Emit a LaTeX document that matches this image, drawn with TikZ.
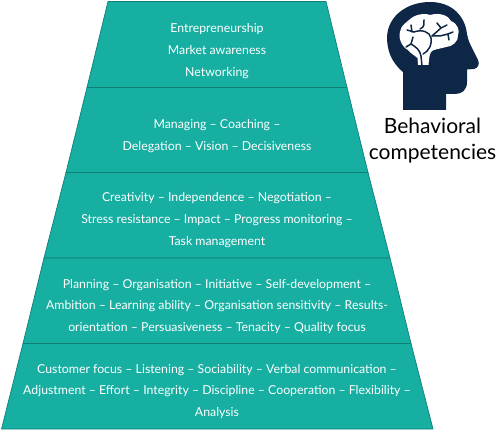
\documentclass[tikz,border=0pt]{standalone}
\usepackage{fontspec}
\setmainfont{Lato}
\definecolor{teal}{HTML}{16AFA1}
\definecolor{edge}{HTML}{0F7F78}
\definecolor{navy}{HTML}{0F2747}
\tikzset{
  tier/.style={fill=teal,draw=edge,line width=0.7pt,line join=miter},
  tiertext/.style={text=white,font=\fontsize{12.3}{21.6}\selectfont,align=center,anchor=center},
  headfill/.style={fill=navy,draw=none},
  brainfill/.style={fill=white,draw=none},
  vein/.style={draw=navy,line width=1.5pt,line cap=round,line join=round},
  caption/.style={text=black,font=\fontsize{21}{26}\selectfont,align=center,anchor=center}
}
\begin{document}
\begin{tikzpicture}[x=1pt,y=-1pt]
\useasboundingbox (0,0) rectangle (500,430);
% pyramid tiers
\draw[tier] (108,1.5) -- (326,1.5) -- (347,87.5) -- (87,87.5) -- cycle;
\draw[tier] (87,87.5) -- (347,87.5) -- (368,172.5) -- (66,172.5) -- cycle;
\draw[tier] (66,172.5) -- (368,172.5) -- (390,258) -- (44,258) -- cycle;
\draw[tier] (44,258) -- (390,258) -- (411,343.5) -- (23,343.5) -- cycle;
\draw[tier] (23,343.5) -- (411,343.5) -- (433,429) -- (1.5,429) -- cycle;
% texts
\node[tiertext] (t1) at (217,51) {Entrepreneurship\\Market awareness\\Networking};
\node[tiertext] (t2) at (217,136) {Managing – Coaching –\\Delegation – Vision – Decisiveness};
\node[tiertext] (t3) at (217,220) {Creativity – Independence – Negotiation –\\Stress resistance – Impact – Progress monitoring –\\Task management};
\node[tiertext] (t4) at (217,306.5) {Planning – Organisation – Initiative – Self-development –\\Ambition – Learning ability – Organisation sensitivity – Results-\\orientation – Persuasiveness – Tenacity – Quality focus};
\node[tiertext] (t5) at (217,391.5) {Customer focus – Listening – Sociability – Verbal communication –\\Adjustment – Effort – Integrity – Discipline – Cooperation – Flexibility –\\Analysis};
% head icon
\path[headfill] (403,110) -- (403,72)
  .. controls (391,62) and (387,50) .. (387,37)
  .. controls (388,15) and (408,2) .. (430,2)
  .. controls (452,2) and (465,16) .. (467,34)
  .. controls (468,40) and (470,44) .. (472,48)
  -- (478,60) .. controls (480,64) and (478,68) .. (474,69)
  -- (467,69.5) -- (467,82)
  .. controls (467,90) and (462,94) .. (455,94)
  -- (446,94) -- (446,110) -- cycle;
% brain
\path[brainfill] (418,65) -- (417.5,58)
  .. controls (414,55) and (410,53) .. (408,50)
  .. controls (402,47) and (398,38) .. (400,32)
  .. controls (401,25) and (406,23) .. (409,20)
  .. controls (415,14) and (425,13) .. (430,15)
  .. controls (440,12) and (449,16) .. (451,21)
  .. controls (458,24) and (460,31) .. (458,35)
  .. controls (459,41) and (452,47) .. (446,47)
  .. controls (440,49) and (433,49) .. (431,52)
  .. controls (429,56) and (429,60) .. (428.5,65) -- cycle;
% veins
\draw[vein] (422,66) -- (421,56) .. controls (420,50) and (416,47) .. (411,44);
\draw[vein] (411,44) -- (406,47);
\draw[vein] (411,44) -- (413,37);
\draw[vein] (423,54) .. controls (430,50) and (432,44) .. (431,38) .. controls (430,32) and (422,29) .. (414,32);
\draw[vein] (414,32) -- (407,30);
\draw[vein] (412,32) -- (411,25);
\draw[vein] (420,29) .. controls (425,27) and (424,23) .. (424,20);
\draw[vein] (432,36) -- (441,28) -- (447,25);
\draw[vein] (441,28) -- (437,23);
\draw[vein] (432,36) -- (440,36) -- (448,34) -- (449,40);
\draw[vein] (448,34) -- (453,32);
% caption
\node[caption] (cap) at (432.5,141) {Behavioral\\competencies};
\end{tikzpicture}
\end{document}
